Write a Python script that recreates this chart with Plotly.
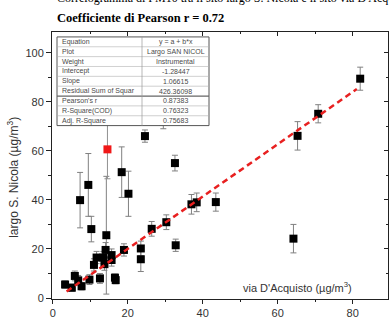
import plotly.graph_objects as go

# ---------------- data ----------------
via_dacquisto = [82.0, 70.8, 65.3, 64.2, 43.5, 38.4, 37.0, 24.6, 32.6, 20.2,
                 18.4, 9.5, 7.3, 10.3, 14.3, 14.1, 11.7, 13.5, 15.7, 11.0,
                 13.8, 19.0, 23.5, 23.5, 26.4, 30.3, 32.8, 3.3, 5.1, 5.9,
                 6.8, 7.7, 9.8, 12.6, 16.6, 16.8, 15.7, 29.5]
largo_snicola = [89.4, 75.1, 66.1, 24.2, 39.1, 39.0, 38.2, 66.0, 55.0, 42.5,
                 51.3, 46.1, 39.9, 28.1, 25.6, 19.6, 16.5, 16.5, 17.5, 13.5,
                 13.8, 19.6, 20.2, 15.8, 28.2, 30.9, 21.5, 5.5, 4.2, 9.0,
                 7.2, 4.8, 7.5, 8.0, 8.3, 7.3, 15.5, 72.0]
err_snicola = [4.7, 3.7, 5.8, 5.8, 3.7, 3.8, 4.0, 2.5, 3.2, 9.2,
               10.3, 12.8, 11.3, 5.2, 24.0, 3.0, 2.5, 2.5, 2.5, 2.5,
               2.5, 2.5, 3.0, 5.0, 3.0, 3.0, 2.5, 1.5, 1.5, 2.0,
               2.0, 1.5, 2.0, 2.0, 1.5, 1.5, 2.5, 3.0]

outlier_x = [14.6]
outlier_y = [60.6]
outlier_err = [12.0]

intercept = -1.28447
slope = 1.06615
fit_x = [3.7, 81.1]
fit_y = [intercept + slope * v for v in fit_x]

table_labels = ["Equation", "Plot", "Weight", "Intercept", "Slope",
                "Residual Sum of Squar", "Pearson's r", "R-Square(COD)", "Adj. R-Square"]
table_values = ["y = a + b*x", "Largo SAN NICOL", "Instrumental", "-1.28447", "1.06615",
                "426.36098", "0.87383", "0.76323", "0.75683"]

x_ticks = [0, 20, 40, 60, 80]
y_ticks = [0, 20, 40, 60, 80, 100]

# ---------------- geometry helpers (pixel -> data) ----------------
X0, XS = 52.7, 3.75   # px of x=0, px per unit
Y0, YS = 302.0, 2.49  # px of y=0, px per unit
def dx(px):
    return (px - X0) / XS
def dy(py):
    return (Y0 - py) / YS

PL, PR, PT, PB = 52, 388, 32, 303
xr = [dx(PL), dx(PR)]
yr = [dy(PB), dy(PT)]

def px_x(px):
    return (px - PL) / (PR - PL)
def px_y(py):
    return (PB - py) / (PB - PT)

fig = go.Figure()

fig.add_trace(go.Scatter(
    x=via_dacquisto, y=largo_snicola, mode="markers",
    marker=dict(symbol="square", size=8, color="black"),
    error_y=dict(type="data", array=err_snicola, color="#808080", thickness=1, width=3),
    showlegend=False, hoverinfo="skip"))

fig.add_trace(go.Scatter(
    x=outlier_x, y=outlier_y, mode="markers",
    marker=dict(symbol="square", size=8, color="#f01818"),
    error_y=dict(type="data", array=outlier_err, color="#909090", thickness=1, width=3),
    showlegend=False, hoverinfo="skip"))

fig.add_trace(go.Scatter(
    x=fit_x, y=fit_y, mode="lines",
    line=dict(color="#e82020", width=2.5, dash="6px,4px"),
    showlegend=False, hoverinfo="skip"))

# empty trace to activate the mirror axes
fig.add_trace(go.Scatter(x=[], y=[], xaxis="x2", yaxis="y2", showlegend=False, hoverinfo="skip"))

tickfont = dict(family="Liberation Sans, Arial", size=11, color="#333333")
axis_common = dict(showgrid=False, zeroline=False, showline=True, linecolor="#222222",
                   linewidth=1)

fig.update_layout(
    width=389, height=320,
    margin=dict(l=PL, r=389 - PR, t=PT, b=320 - PB, pad=0),
    paper_bgcolor="white", plot_bgcolor="white",
    xaxis=dict(range=xr, tickvals=x_ticks, ticks="outside", ticklen=4, tickcolor="#222222",
               tickfont=tickfont,
               minor=dict(dtick=10, tick0=0, ticks="outside", ticklen=2, tickcolor="#222222"),
               **axis_common),
    yaxis=dict(range=yr, tickvals=y_ticks, ticks="outside", ticklen=5, tickcolor="#222222",
               tickfont=tickfont,
               minor=dict(dtick=10, tick0=0, ticks="outside", ticklen=3, tickcolor="#222222"),
               **axis_common),
    xaxis2=dict(range=xr, overlaying="x", side="top", tickvals=x_ticks, ticks="inside",
                ticklen=4, tickcolor="#222222", showticklabels=False,
                minor=dict(dtick=10, tick0=0, ticks="inside", ticklen=2, tickcolor="#222222"),
                **axis_common),
    yaxis2=dict(range=yr, overlaying="y", side="right", tickvals=y_ticks, ticks="inside",
                ticklen=4, tickcolor="#222222", showticklabels=False,
                minor=dict(dtick=10, tick0=0, ticks="inside", ticklen=2, tickcolor="#222222"),
                **axis_common),
)

# ---------------- inset table ----------------
tl, tr, tt = 57, 209, 37
row_h = 10
tb = tt + row_h * len(table_labels)
col = 142
shapes = []
shapes.append(dict(type="rect", xref="x", yref="y", x0=dx(tl), x1=dx(tr), y0=dy(tb), y1=dy(tt),
                   fillcolor="white", line=dict(color="#555555", width=1), layer="above"))
for i in range(1, len(table_labels)):
    yy = dy(tt + row_h * i)
    w = 1.2 if i == 6 else 0.6
    c = "#666666" if i == 6 else "#b0b0b0"
    shapes.append(dict(type="line", xref="x", yref="y", x0=dx(tl), x1=dx(tr), y0=yy, y1=yy,
                       line=dict(color=c, width=w), layer="above"))
shapes.append(dict(type="line", xref="x", yref="y", x0=dx(col), x1=dx(col), y0=dy(tb), y1=dy(tt),
                   line=dict(color="#999999", width=0.7), layer="above"))
fig.update_layout(shapes=shapes)

annots = []
tfont = dict(family="Liberation Sans, Arial", size=7, color="#4a4a4a")
for i, (lab, val) in enumerate(zip(table_labels, table_values)):
    yc = dy(tt + row_h * i + row_h / 2)
    annots.append(dict(x=dx(tl + 3), y=yc, xref="x", yref="y", text=lab, showarrow=False,
                       xanchor="left", yanchor="middle", font=tfont))
    annots.append(dict(x=dx((col + tr) / 2), y=yc, xref="x", yref="y", text=val, showarrow=False,
                       xanchor="center", yanchor="middle", font=tfont))

# axis titles
annots.append(dict(x=dx(297), y=dy(291), xref="x", yref="y",
                   text="via D'Acquisto (\u00b5g/m<sup>3</sup>)", showarrow=False,
                   xanchor="center", yanchor="middle",
                   font=dict(family="Liberation Sans, Arial", size=11, color="#333333")))
annots.append(dict(x=px_x(13), y=px_y(180), xref="paper", yref="paper",
                   text="largo S. Nicola (\u00b5g/m<sup>3</sup>)", showarrow=False, textangle=-90,
                   xanchor="center", yanchor="middle",
                   font=dict(family="Liberation Sans, Arial", size=12, color="#333333")))

# titles (page-level; first line is partly cut by the page top as in the source)
annots.append(dict(x=px_x(55), y=px_y(-3), xref="paper", yref="paper",
                   text="Correlogramma di PM10 tra il sito largo S. Nicola e il sito via D'Acquisto",
                   showarrow=False, xanchor="left", yanchor="middle",
                   font=dict(family="Liberation Serif, Times New Roman", size=12, color="black")))
annots.append(dict(x=px_x(55), y=px_y(18), xref="paper", yref="paper",
                   text="<b>Coefficiente di Pearson r = 0.72</b>",
                   showarrow=False, xanchor="left", yanchor="middle",
                   font=dict(family="Liberation Serif, Times New Roman", size=12.5, color="black")))
fig.update_layout(annotations=annots)

fig.write_html("out.html")
